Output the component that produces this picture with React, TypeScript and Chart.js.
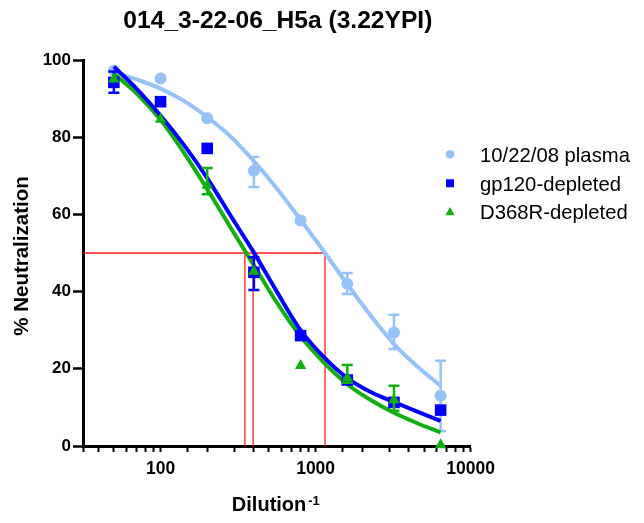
import React, { useEffect, useRef } from 'react';
import { Chart, registerables } from 'chart.js';

Chart.register(...registerables);

// ---------- data ----------
const chartTitle = '014_3-22-06_H5a (3.22YPI)';
const seriesNames = ['10/22/08 plasma', 'gp120-depleted', 'D368R-depleted'];
const seriesColors = ['#96c3f7', '#0000ff', '#10b010'];

const dilutions = [50, 100, 200, 400, 800, 1600, 3200, 6400];
const plasmaValues = [97.2, 95.2, 84.9, 71.3, 58.4, 42.0, 29.4, 13.0];
const gp120Values = [94.2, 89.2, 77.1, 45.0, 28.6, 17.1, 11.3, 9.3];
const d368rValues = [95.0, 84.6, 67.5, 45.2, 20.8, 17.6, 11.9, 0.3];

const plasmaErrLow = [null, null, null, 67.1, null, 39.4, 25.1, 3.9];
const plasmaErrHigh = [null, null, null, 74.9, null, 44.8, 34.0, 22.1];
const gp120ErrLow = [91.5, null, null, 40.4, null, null, null, null];
const gp120ErrHigh = [97.0, null, null, 48.9, null, null, null, null];
const d368rErrLow = [null, null, 65.2, null, null, 16.4, 9.1, null];
const d368rErrHigh = [null, null, 72.0, null, null, 21.0, 15.6, null];

// fitted curves
const fitDilutions = [50, 70.7, 100, 141.4, 200, 282.8, 400, 565.7, 800, 1131, 1600, 2263, 3200, 4525, 6400];
const plasmaFit = [96.8, 94.9, 92.6, 89.4, 85.2, 80.2, 73.8, 66.6, 58.6, 50.4, 41.9, 33.8, 26.4, 20.6, 15.6];
const gp120Fit = [98.3, 92.4, 85.6, 78.0, 69.4, 59.7, 50.1, 39.8, 30.0, 23.0, 17.6, 14.0, 11.4, 8.9, 6.5];
const d368rFit = [96.5, 91.2, 84.5, 76.0, 66.5, 56.6, 46.8, 37.0, 28.4, 21.6, 16.0, 11.9, 8.6, 5.9, 3.5];

// 50% neutralization guide lines
const halfLevel = 50;
const ic50Dilutions = [350, 395, 1150];

const xMin = 31.6228;
const xMax = 10000;
const xLabelValues = [100, 1000, 10000];
const yMin = 0;
const yMax = 100;
const yStep = 20;

const FONT = '"Liberation Sans", Arial, Helvetica, sans-serif';

const toPoints = (xs: number[], ys: number[]) => xs.map((x, i) => ({ x, y: ys[i] }));

const errorBarPlugin = {
  id: 'errorBars',
  beforeDatasetDraw(chart: any, args: any) {
    const ds = chart.data.datasets[args.index];
    if (!ds.errLow) return;
    const { ctx } = chart;
    const xs = chart.scales.x;
    const ys = chart.scales.y;
    ctx.save();
    ctx.strokeStyle = ds.backgroundColor;
    ctx.lineWidth = 2.5;
    ds.data.forEach((p: any, i: number) => {
      const lo = ds.errLow[i];
      const hi = ds.errHigh[i];
      if (lo == null || hi == null) return;
      const px = xs.getPixelForValue(p.x);
      const yl = ys.getPixelForValue(lo);
      const yh = ys.getPixelForValue(hi);
      ctx.beginPath();
      ctx.moveTo(px, yl);
      ctx.lineTo(px, yh);
      ctx.moveTo(px - 5.5, yl);
      ctx.lineTo(px + 5.5, yl);
      ctx.moveTo(px - 5.5, yh);
      ctx.lineTo(px + 5.5, yh);
      ctx.stroke();
    });
    ctx.restore();
  },
};

const textPlugin = {
  id: 'texts',
  afterDraw(chart: any) {
    const { ctx, chartArea } = chart;
    const cx = (chartArea.left + chartArea.right) / 2;
    const cy = (chartArea.top + chartArea.bottom) / 2;
    ctx.save();
    ctx.fillStyle = '#000';

    // title
    ctx.font = `bold 24.6px ${FONT}`;
    ctx.textAlign = 'center';
    ctx.textBaseline = 'alphabetic';
    ctx.fillText(chartTitle, cx + 1, 28);

    // y axis title
    ctx.save();
    ctx.translate(22.5, cy + 3);
    ctx.rotate(-Math.PI / 2);
    ctx.font = `bold 20.5px ${FONT}`;
    ctx.textAlign = 'center';
    ctx.textBaseline = 'middle';
    ctx.fillText('% Neutralization', 0, 0);
    ctx.restore();

    // x axis title with superscript
    ctx.font = `bold 20px ${FONT}`;
    const mainW = ctx.measureText('Dilution').width;
    ctx.font = `bold 13px ${FONT}`;
    const supW = ctx.measureText('-1').width;
    const startX = cx - 1 - (mainW + 2 + supW) / 2;
    ctx.textAlign = 'left';
    ctx.font = `bold 20px ${FONT}`;
    ctx.fillText('Dilution', startX, 511);
    ctx.font = `bold 13px ${FONT}`;
    ctx.fillText('-1', startX + mainW + 2, 504.5);

    // legend
    const rowY = [154.3, 183.3, 211.7];
    const markX = 450;
    seriesNames.forEach((name, i) => {
      const y = rowY[i];
      ctx.fillStyle = seriesColors[i];
      ctx.beginPath();
      if (i === 0) {
        ctx.arc(markX, y, 4.3, 0, Math.PI * 2);
      } else if (i === 1) {
        ctx.rect(markX - 4, y - 4, 8, 8);
      } else {
        ctx.moveTo(markX, y - 4.8);
        ctx.lineTo(markX + 4.6, y + 3.5);
        ctx.lineTo(markX - 4.6, y + 3.5);
        ctx.closePath();
      }
      ctx.fill();
      ctx.fillStyle = '#000';
      ctx.font = `20.3px ${FONT}`;
      ctx.textAlign = 'left';
      ctx.textBaseline = 'alphabetic';
      ctx.fillText(name, 480, y + 7.2);
    });
    ctx.restore();
  },
};

export default function App() {
  const canvasRef = useRef<HTMLCanvasElement | null>(null);

  useEffect(() => {
    if (!canvasRef.current) return;
    const redColor = 'rgba(255,0,0,0.9)';
    const guideSets: any[] = [
      {
        label: 'guide-h',
        data: [
          { x: xMin, y: halfLevel },
          { x: Math.max(...ic50Dilutions), y: halfLevel },
        ],
        showLine: true,
        borderColor: redColor,
        borderWidth: 1.3,
        pointRadius: 0,
        order: 10,
      },
      ...ic50Dilutions.map((d, i) => ({
        label: 'guide-v' + i,
        data: [
          { x: d, y: yMin },
          { x: d, y: halfLevel },
        ],
        showLine: true,
        borderColor: redColor,
        borderWidth: 1.3,
        pointRadius: 0,
        order: 10,
      })),
    ];

    const fitSet = (name: string, ys: number[], color: string, order: number) => ({
      label: name + ' fit',
      data: toPoints(fitDilutions, ys),
      showLine: true,
      borderColor: color,
      backgroundColor: color,
      borderWidth: 4,
      pointRadius: 0,
      cubicInterpolationMode: 'monotone',
      order,
    });

    const pointSet = (
      name: string,
      ys: number[],
      color: string,
      style: string,
      radius: number,
      lo: (number | null)[],
      hi: (number | null)[],
      order: number
    ) => ({
      label: name,
      data: toPoints(dilutions, ys),
      showLine: false,
      backgroundColor: color,
      borderColor: color,
      borderWidth: 0,
      pointStyle: style,
      pointRadius: radius,
      pointHoverRadius: radius,
      errLow: lo,
      errHigh: hi,
      clip: false,
      order,
    });

    const chart = new Chart(canvasRef.current, {
      type: 'scatter',
      data: {
        datasets: [
          ...guideSets,
          fitSet(seriesNames[0], plasmaFit, seriesColors[0], 9),
          pointSet(seriesNames[0], plasmaValues, seriesColors[0], 'circle', 6, plasmaErrLow, plasmaErrHigh, 8),
          fitSet(seriesNames[1], gp120Fit, seriesColors[1], 6),
          fitSet(seriesNames[2], d368rFit, seriesColors[2], 7),
          pointSet(seriesNames[1], gp120Values, seriesColors[1], 'rect', 8.2, gp120ErrLow, gp120ErrHigh, 5),
          pointSet(seriesNames[2], d368rValues, seriesColors[2], 'triangle', 6.6, d368rErrLow, d368rErrHigh, 4),
        ] as any,
      },
      options: {
        responsive: false,
        animation: false,
        devicePixelRatio: 1,
        layout: { padding: { top: 60, right: 173.3, bottom: 0, left: 0 } },
        plugins: {
          legend: { display: false },
          tooltip: { enabled: false },
          title: { display: false },
        },
        scales: {
          x: {
            type: 'logarithmic',
            min: xMin,
            max: xMax,
            ticks: {
              autoSkip: false,
              maxRotation: 0,
              minRotation: 0,
              color: '#000',
              padding: 7,
              font: { family: FONT, size: 17.5, weight: 'bold' },
              callback: (v: any) => {
                const n = Number(v);
                return xLabelValues.some((t) => Math.abs(t - n) < 1e-6) ? String(n) : '';
              },
            },
            grid: {
              drawOnChartArea: false,
              drawTicks: true,
              tickLength: 6,
              tickWidth: 2,
              tickColor: '#000',
            },
            border: { display: true, color: '#000', width: 3 },
            afterFit: (s: any) => {
              s.height = 77;
            },
          },
          y: {
            type: 'linear',
            min: yMin,
            max: yMax,
            ticks: {
              stepSize: yStep,
              color: '#000',
              padding: 2,
              font: { family: FONT, size: 17, weight: 'bold' },
            },
            grid: {
              drawOnChartArea: false,
              drawTicks: true,
              tickLength: 10,
              tickWidth: 2.5,
              tickColor: '#000',
            },
            border: { display: true, color: '#000', width: 3 },
            afterFit: (s: any) => {
              s.width = 83;
            },
          },
        },
      } as any,
      plugins: [errorBarPlugin, textPlugin],
    });
    return () => chart.destroy();
  }, []);

  return (
    <div style={{ position: 'absolute', left: 0, top: 0, width: 644, height: 523, background: '#fff' }}>
      <canvas ref={canvasRef} width={644} height={523} style={{ display: 'block' }} />
    </div>
  );
}
